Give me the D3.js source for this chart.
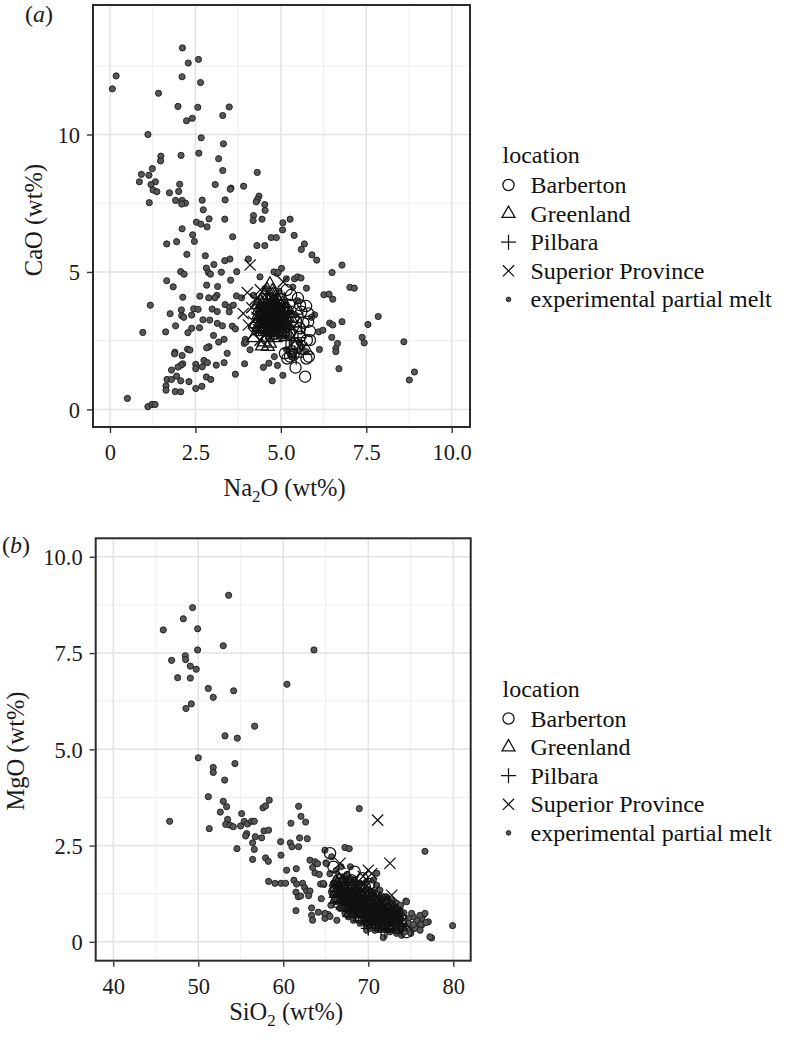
<!DOCTYPE html>
<html><head><meta charset="utf-8">
<script src="https://cdn.jsdelivr.net/npm/d3@7"></script>
<style>body{margin:0;background:#fff}svg{display:block}
svg text{font-family:"Liberation Serif","Tinos","Times New Roman","Times","Nimbus Roman","DejaVu Serif","Noto Serif",serif;}</style>
</head><body>
<svg id="c" width="786" height="1043"></svg>
<script>
// ---------------- DATA ----------------
const locations = ["Barberton","Greenland","Pilbara","Superior Province","experimental partial melt"];
// Panel (a): Na2O (x) vs CaO (y)
const aXTicks = [0,2.5,5,7.5,10], aXTickLabels = ["0","2.5","5.0","7.5","10.0"];
const aYTicks = [0,5,10], aYTickLabels = ["0","5","10"];
const aMelt = [[2.12,13.15],[2.29,12.6],[2.59,12.73],[0.18,12.13],[0.07,11.66],[2.11,12.1],[2.65,11.89],[1.42,11.5],[1.99,11.02],[2.57,10.99],[3.49,11.0],[3.30,10.69],[2.41,10.59],[2.24,10.5],[1.11,10.0],[2.67,9.88],[3.32,9.66],[2.60,9.32],[2.08,9.24],[1.49,9.21],[1.48,9.04],[3.18,9.12],[1.24,8.76],[3.30,8.69],[4.31,8.62],[0.92,8.55],[1.14,8.52],[0.86,8.28],[1.33,8.28],[1.20,8.18],[2.04,8.19],[3.08,8.18],[3.91,8.12],[3.54,8.05],[3.52,8.01],[1.26,7.98],[1.37,7.92],[1.74,7.88],[2.01,7.93],[4.36,7.76],[4.32,7.64],[1.92,7.60],[2.11,7.60],[2.70,7.61],[3.37,7.62],[4.28,7.55],[1.15,7.52],[2.21,7.50],[2.10,7.47],[4.53,7.45],[4.54,7.24],[2.73,7.26],[4.20,7.05],[2.90,6.93],[3.36,6.92],[4.19,6.87],[4.45,6.92],[5.27,6.92],[5.06,6.79],[2.53,6.81],[2.66,6.74],[2.84,6.64],[2.11,6.57],[5.05,6.53],[5.39,6.33],[2.42,6.35],[3.59,6.28],[4.72,6.25],[4.87,6.25],[2.47,6.11],[1.66,6.02],[1.95,6.10],[5.69,6.02],[4.30,5.96],[4.53,5.96],[5.60,5.82],[2.25,5.64],[2.79,5.59],[5.91,5.62],[6.05,5.43],[3.51,5.47],[3.36,5.41],[3.04,5.27],[4.05,5.47],[6.79,5.25],[5.02,5.13],[2.82,5.14],[2.88,4.98],[2.94,4.92],[2.07,5.01],[2.17,4.92],[3.26,4.99],[3.53,4.70],[3.71,5.01],[4.39,4.82],[4.88,4.95],[5.40,4.75],[5.49,4.82],[5.59,4.78],[5.16,4.75],[6.50,4.98],[1.66,4.68],[1.85,4.46],[2.83,4.52],[3.15,4.47],[5.75,4.41],[7.02,4.44],[7.15,4.41],[2.13,4.08],[3.13,4.15],[3.70,4.13],[3.07,4.06],[2.89,4.06],[2.63,4.12],[6.26,4.17],[6.41,4.19],[6.52,4.01],[3.85,4.06],[1.18,3.79],[2.09,3.62],[2.45,3.66],[2.58,3.64],[3.37,3.81],[3.50,3.72],[3.61,3.79],[2.99,3.65],[3.14,3.56],[3.49,3.55],[2.10,3.41],[2.16,3.35],[2.39,3.43],[1.76,3.48],[5.99,3.44],[7.85,3.38],[2.72,3.26],[2.92,3.25],[3.14,3.13],[2.62,2.97],[2.39,2.95],[1.92,3.04],[3.29,3.04],[3.58,3.03],[3.67,2.93],[6.43,3.14],[6.52,3.07],[6.79,3.19],[7.55,3.09],[0.96,2.80],[1.63,2.82],[2.28,2.79],[6.11,2.82],[6.23,2.88],[3.03,2.69],[3.18,2.45],[3.34,2.55],[3.96,2.55],[6.49,2.62],[7.38,2.62],[7.44,2.42],[8.60,2.46],[2.90,2.28],[2.83,2.24],[2.27,2.19],[2.34,2.16],[1.90,2.08],[1.89,2.02],[2.11,1.96],[3.43,2.04],[6.13,2.18],[6.61,2.22],[6.61,2.10],[6.66,2.40],[2.75,1.78],[2.85,1.70],[2.13,1.66],[2.08,1.61],[1.99,1.54],[2.51,1.64],[2.51,1.48],[2.70,1.55],[3.11,1.61],[3.34,1.70],[3.94,1.66],[1.80,1.43],[4.49,1.53],[4.65,1.68],[4.90,1.60],[4.81,1.92],[6.70,1.48],[1.67,1.09],[1.80,1.09],[1.95,1.21],[2.07,1.04],[1.64,0.86],[1.64,0.70],[1.91,0.65],[2.07,0.64],[2.31,1.01],[2.51,0.76],[2.69,0.84],[2.82,1.18],[2.95,1.09],[3.67,1.28],[4.75,1.04],[5.06,1.24],[8.76,1.07],[8.91,1.36],[0.51,0.40],[1.11,0.10],[1.23,0.18],[1.32,0.18],[3.93,2.40],[3.98,2.45],[4.10,2.17],[5.17,2.17],[5.31,1.92],[5.62,2.25],[5.53,2.44],[5.74,2.10],[4.60,3.40],[4.80,3.20],[4.40,3.70],[5.00,2.70],[4.95,4.30],[4.55,4.40],[4.20,4.15],[5.35,4.45],[5.50,3.95],[5.25,3.05],[4.30,2.95],[5.90,3.35],[4.80,5.00],[4.92,4.98]];
const aBarberton = [[5.30,4.16],[5.74,3.76],[5.80,3.49],[5.80,3.19],[5.85,2.85],[5.85,2.52],[5.42,2.40],[5.19,1.85],[5.43,1.52],[5.71,1.19],[5.82,1.92],[5.32,2.12],[5.56,3.79],[5.66,3.15],[5.37,3.36],[5.56,2.95],[5.17,4.34],[5.12,2.04],[5.37,1.98],[5.76,2.52],[5.56,2.64],[5.48,2.28],[5.27,1.92],[5.75,1.85],[5.60,3.55],[5.05,3.60],[4.90,3.30],[5.10,2.80],[4.80,3.60],[5.00,4.00],[5.50,4.05],[5.25,2.75],[5.45,3.20]];
const aGreenland = [[4.68,4.55],[4.60,4.35],[4.75,4.30],[4.52,4.15],[4.85,4.10],[4.40,3.95],[4.65,3.98],[4.95,3.90],[4.30,3.80],[4.55,3.78],[4.78,3.75],[5.05,3.70],[4.45,3.60],[4.70,3.58],[4.90,3.55],[5.20,3.52],[4.35,3.45],[4.60,3.42],[4.82,3.40],[5.00,3.38],[4.50,3.30],[4.72,3.28],[4.95,3.25],[5.30,3.30],[4.40,3.15],[4.62,3.12],[4.85,3.10],[5.10,3.08],[4.55,2.98],[4.78,2.95],[5.00,2.92],[4.45,2.82],[4.70,2.80],[4.92,2.78],[4.60,2.62],[4.85,2.60],[4.50,2.45],[4.68,2.40],[4.45,2.30],[4.62,2.28],[5.40,2.30],[5.75,2.15],[5.55,2.75],[4.25,3.10],[5.45,3.60],[4.20,2.60],[4.50,3.70],[4.62,3.55],[4.88,3.62],[4.98,3.48],[4.58,3.35],[4.80,3.22],[5.08,3.30],[4.68,3.10],[4.90,3.00],[4.52,2.90],[4.75,3.65],[4.85,3.85],[4.66,3.75],[5.12,3.60],[4.72,3.48],[4.95,3.15],[4.62,2.92],[5.05,2.85],[4.80,3.35],[4.58,3.20],
  [4.45,3.85],[4.45,3.55],[4.45,3.25],[4.45,2.95],[4.60,4.05],[4.60,3.75],[4.60,3.45],[4.60,3.15],[4.60,2.85],[4.75,4.15],[4.75,3.85],[4.75,3.55],[4.75,3.25],[4.75,2.95],[4.75,2.70],[4.90,4.00],[4.90,3.70],[4.90,3.40],[4.90,3.10],[4.90,2.80],[5.05,3.85],[5.05,3.55],[5.05,3.25],[5.05,2.95],[5.05,2.70],[5.20,3.65],[5.20,3.35],[5.20,3.05],[5.20,2.80],[4.35,3.60],[4.35,3.30],[4.35,3.00],[4.52,3.42],[4.68,3.62],[4.82,3.18],[4.97,3.62],[5.12,3.18],[4.67,2.98],[4.83,3.88],[5.28,3.48]];
const aPilbara = [[4.60,3.70],[4.80,3.60],[4.50,3.50],[4.70,3.40],[4.90,3.30],[4.65,3.20],[4.85,3.15],[5.05,3.20],[4.55,3.05],[4.75,3.00],[4.95,2.95],[5.15,2.90],[4.70,2.85],[5.30,2.60],[5.25,2.20],[5.40,2.05],[5.15,2.50],[5.45,1.90],[4.40,3.25],[5.00,3.50],[5.20,3.75],[4.90,3.85],[4.35,2.95],[5.60,3.00],[5.50,2.50],[4.60,3.90],[5.10,4.00],[4.80,2.70],[4.62,3.55],[4.82,3.45],[4.72,3.25],[4.95,3.40],[4.58,3.30],[4.78,3.75],[5.02,3.05],[4.65,2.95],[4.88,3.58],[4.52,3.62],[5.12,3.35],[4.70,3.65]];
const aSuperior = [[4.10,5.25],[4.02,4.25],[3.90,3.49],[4.05,3.07],[4.20,2.76],[4.39,2.52],[5.07,4.64],[4.25,4.00],[4.15,3.70],[4.30,3.35],[4.45,3.90],[4.60,3.50],[4.75,3.80],[4.50,3.15],[4.70,3.05],[4.88,3.45],[5.00,3.10],[4.35,2.90],[4.55,2.75],[4.95,3.70],[4.80,4.15],[4.40,4.35],[5.20,3.40],[5.35,3.00],[4.65,4.00],[4.20,3.20],[4.62,3.62],[4.85,3.28],[4.72,3.45],[4.55,3.40],[4.98,3.52],[4.78,2.92],[5.08,3.62],[4.68,3.30]];

// Panel (b): SiO2 (x) vs MgO (y)
const bXTicks = [40,50,60,70,80], bXTickLabels = ["40","50","60","70","80"];
const bYTicks = [0,2.5,5,7.5,10], bYTickLabels = ["0","2.5","5.0","7.5","10.0"];
const bMelt = [[45.88,8.10],[46.86,7.31],[48.24,8.39],[49.33,8.68],[47.57,6.86],[48.47,7.43],[48.51,7.33],[49.06,7.16],[49.76,7.08],[49.06,6.85],[49.92,7.58],[49.92,8.13],[48.55,6.06],[49.18,6.18],[53.57,9.00],[52.94,7.69],[51.18,6.58],[51.76,6.35],[54.16,6.52],[60.43,6.69],[63.61,7.58],[56.63,5.60],[53.14,5.35],[54.59,5.29],[50.0,4.78],[51.76,4.53],[51.76,4.40],[54.31,4.63],[53.10,4.20],[51.18,3.77],[52.94,3.65],[53.33,3.51],[52.59,3.37],[53.45,3.18],[53.22,3.05],[53.73,3.03],[54.12,2.99],[51.29,2.94],[46.63,3.13],[55.10,3.33],[54.98,3.01],[55.41,3.13],[55.8,3.06],[56.27,3.13],[56.59,3.13],[55.69,2.81],[55.57,2.75],[56.39,2.57],[56.59,2.40],[56.39,2.14],[54.55,2.42],[56.71,2.73],[57.45,2.70],[57.61,3.48],[57.92,3.53],[58.35,3.68],[57.73,2.88],[58.27,2.90],[57.92,2.18],[58.24,2.09],[58.27,1.57],[59.02,1.52],[59.73,1.52],[60.27,1.52],[59.69,2.60],[59.73,2.25],[60.39,1.86],[60.90,3.08],[60.82,2.57],[61.02,2.47],[61.80,3.52],[62.08,3.26],[62.63,3.11],[61.92,2.70],[61.80,2.47],[62.82,2.68],[61.25,1.60],[61.53,1.90],[61.57,1.50],[61.49,1.29],[61.76,1.17],[62.04,1.19],[61.49,0.81],[62.27,1.52],[62.51,1.41],[62.75,1.32],[63.14,1.32],[62.98,1.20],[63.14,2.12],[63.45,1.93],[63.73,2.08],[63.73,1.79],[64.04,2.03],[64.24,1.75],[63.33,0.88],[63.33,0.69],[63.45,0.56],[64.12,0.77],[64.39,1.50],[64.78,1.49],[64.47,1.12],[64.90,2.38],[65.02,2.05],[64.90,0.72],[64.90,0.61],[65.29,0.71],[65.69,2.21],[65.49,1.77],[67.25,2.45],[67.76,2.42],[68.94,3.46],[76.67,2.35],[79.92,0.42],[77.45,0.10],[77.06,0.52],[76.47,0.69],[74.43,1.06],[71.76,0.11],[65.1,2.03],[64.7,1.52],[64.9,0.74],[65.5,0.66],[66.3,0.56],[69.8,0.30],[73.73,0.30],[76.08,0.52],[77.25,0.13],[71.0,1.78],[74.5,1.04],
[66.27,1.04],[65.88,1.26],[66.67,0.87],[67.25,0.74],[67.65,0.65],[68.24,0.56],[69.02,0.48],[69.80,0.43],[70.20,0.35],[70.78,0.30],[72.55,0.26],[73.33,0.22],[73.92,0.17],[74.31,0.26],[74.90,0.30],[75.49,0.39],[75.88,0.48],[76.27,0.61],[75.69,0.56],[75.29,0.65],[74.71,0.61],[73.73,0.87],[73.33,1.00],[72.75,1.08],[72.16,1.17],[71.37,1.34],[70.98,1.47],[70.59,1.60],[69.80,1.56],[69.02,1.52],[68.24,1.60],[67.65,1.65],[67.06,1.69],[66.47,1.60],[66.67,1.43],[67.45,1.34],[68.24,1.26],[69.02,1.17],[69.80,1.08],[70.59,1.00],[71.37,0.91],[72.16,0.78],[72.94,0.69],[73.73,0.61],[67.06,1.08],[67.84,1.00],[68.63,0.91],[69.41,0.82],[70.20,0.74],[70.98,0.65],[71.76,0.56],[72.55,0.48],[73.33,0.43],[74.12,0.39],[67.45,0.87],[68.24,0.78],[69.41,0.61],[70.59,0.52],[71.37,0.43],[72.16,0.39],[69.80,1.34],[69.02,1.34],[70.59,1.26],[71.37,1.13],[72.94,0.91],[73.53,0.78],[75.10,0.74],[76.08,0.69],[76.67,0.74],[76.27,0.43],[75.29,0.35],[74.71,0.48],[65.88,1.52],[66.8,1.95],[67.5,1.75],[68.5,1.55],[66.2,1.85],[75.0,0.22],[75.5,0.35],[76.2,0.45],[76.8,0.50],[74.2,0.75],[73.8,0.95],[73.2,0.85],[72.8,1.00],[76.1,0.30],[75.3,0.45],[67.9,1.95],[66.0,1.10],[65.6,0.95]];
const bBarberton = [[65.5,2.30],[68.4,1.82],[69.6,1.43],[70.1,1.50],[65.9,1.95],[66.5,1.60],[67.8,1.40],[69.0,1.20],[70.5,1.05],[71.2,0.85],[67.2,1.10],[68.5,0.95],[72.0,0.60],[73.5,0.35],[74.5,0.25],[70.0,0.70],[66.0,1.30],[68.0,1.60],[69.3,1.65],[71.8,1.10]];
const bGreenland = [[66.8,1.25],[67.5,1.05],[68.2,0.90],[69.0,0.85],[69.8,0.75],[70.5,0.65],[71.3,0.55],[67.0,0.95],[68.6,1.15],[70.2,0.95],[71.8,0.45],[72.5,0.40],[66.3,1.50],[69.4,0.60],[73.0,0.35],[67.8,0.75],[68.0,1.10],[69.2,1.00],[70.8,0.85],[67.3,1.30],
  [66.2,1.55],[66.2,1.40],[66.2,1.25],[66.2,1.10],[66.6,1.60],[66.6,1.45],[66.6,1.30],[66.6,1.15],[66.6,1.00],[67.0,1.55],[67.0,1.40],[67.0,1.25],[67.0,1.10],[67.4,1.50],[67.4,1.35],[67.4,1.20],[67.4,1.05],[67.4,0.90],[67.8,1.48],[67.8,1.33],[67.8,1.18],[67.8,1.03],[67.8,0.88],[68.2,1.45],[68.2,1.30],[68.2,1.15],[68.2,1.00],[68.2,0.85],[68.2,0.72],[68.6,1.40],[68.6,1.25],[68.6,1.10],[68.6,0.95],[68.6,0.80],[69.0,1.38],[69.0,1.22],[69.0,1.08],[69.0,0.93],[69.0,0.78],[69.0,0.64],[69.4,1.32],[69.4,1.18],[69.4,1.03],[69.4,0.88],[69.4,0.74],[69.8,1.28],[69.8,1.14],[69.8,0.99],[69.8,0.84],[69.8,0.70],[69.8,0.56],[70.2,1.24],[70.2,1.10],[70.2,0.80],[70.2,0.66],[70.2,0.52],[70.6,1.20],[70.6,1.06],[70.6,0.91],[70.6,0.76],[70.6,0.62],[70.6,0.48],[71.0,1.15],[71.0,1.00],[71.0,0.86],[71.0,0.72],[71.0,0.58],[71.0,0.44],[71.4,1.10],[71.4,0.96],[71.4,0.82],[71.4,0.68],[71.4,0.40],[71.8,1.05],[71.8,0.90],[71.8,0.76],[71.8,0.62],[71.8,0.35],[72.2,0.98],[72.2,0.84],[72.2,0.70],[72.2,0.56],[72.2,0.42],[72.6,0.92],[72.6,0.78],[72.6,0.64],[72.6,0.50],[73.0,0.86],[73.0,0.72],[73.0,0.58],[73.0,0.44],[73.4,0.78],[73.4,0.64],[73.4,0.50],[73.8,0.70],[73.8,0.55],[73.8,0.40]];
const bPilbara = [[71.5,0.35],[72.2,0.30],[70.8,0.45],[73.0,0.50],[69.5,0.50],[71.0,0.75],[72.8,0.65],[68.5,0.70],[74.0,0.40],[70.0,0.35],[71.96,0.26],[69.0,0.95],[68.0,1.00],[70.3,0.90],
  [66.4,1.32],[66.8,1.38],[67.2,1.18],[67.6,1.28],[67.6,0.98],[68.0,1.22],[68.4,1.05],[68.4,0.80],[68.8,1.18],[68.8,0.88],[69.2,1.12],[69.2,0.82],[69.6,0.95],[69.6,0.66],[70.0,1.05],[70.0,0.78],[70.4,0.86],[70.4,0.58],[70.8,1.00],[70.8,0.68],[71.2,0.90],[71.2,0.62],[71.6,0.78],[71.6,0.50],[72.0,0.72],[72.4,0.62],[72.8,0.52],[73.2,0.66],[73.6,0.48]];
const bSuperior = [[71.1,3.16],[72.55,2.04],[72.75,1.21],[66.67,2.04],[70.0,1.86],[70.4,1.77],[69.4,1.70],[68.2,1.55],[67.0,1.70],[69.8,1.45],[70.6,1.30],[68.8,1.25],[71.5,1.05],[67.5,1.20],[66.8,1.45],[69.0,1.05],[70.2,1.10],[72.0,0.90],[68.0,1.35]];

// ---------------- DRAW ----------------
const svg = d3.select("#c");
const INK = "#111";

function drawMarker(g, type, legend){
  if(type==="Barberton"){
    g.append("circle").attr("r",5.6).attr("fill","none").attr("stroke",INK).attr("stroke-width",1.25);
  } else if(type==="Greenland"){
    const s=13, h=s*Math.sqrt(3)/2;
    g.append("path").attr("d",`M0,${-h*2/3}L${s/2},${h/3}L${-s/2},${h/3}Z`).attr("fill","none").attr("stroke",INK).attr("stroke-width",1.25);
  } else if(type==="Pilbara"){
    const a=7.5;
    g.append("path").attr("d",`M${-a},0H${a}M0,${-a}V${a}`).attr("stroke",INK).attr("stroke-width",1.25);
  } else if(type==="Superior Province"){
    const a=5.6;
    g.append("path").attr("d",`M${-a},${-a}L${a},${a}M${-a},${a}L${a},${-a}`).attr("stroke",INK).attr("stroke-width",1.25);
  } else {
    g.append("circle").attr("r",legend?2.3:3.1).attr("fill","#575757").attr("stroke","#1a1a1a").attr("stroke-width",0.9);
  }
}

function panel(cfg){
  const x = d3.scaleLinear().domain(cfg.xDomain).range([cfg.left,cfg.right]);
  const y = d3.scaleLinear().domain(cfg.yDomain).range([cfg.bottom,cfg.top]);
  const g = svg.append("g");
  g.append("rect").attr("x",cfg.left).attr("y",cfg.top).attr("width",cfg.right-cfg.left).attr("height",cfg.bottom-cfg.top).attr("fill","#fff");
  g.selectAll(".mx").data(cfg.xMinor).join("line").attr("x1",d=>x(d)).attr("x2",d=>x(d)).attr("y1",cfg.top).attr("y2",cfg.bottom).attr("stroke","#ececec").attr("stroke-width",0.9);
  g.selectAll(".my").data(cfg.yMinor).join("line").attr("y1",d=>y(d)).attr("y2",d=>y(d)).attr("x1",cfg.left).attr("x2",cfg.right).attr("stroke","#ececec").attr("stroke-width",0.9);
  g.selectAll(".gx").data(cfg.xTicks).join("line").attr("x1",d=>x(d)).attr("x2",d=>x(d)).attr("y1",cfg.top).attr("y2",cfg.bottom).attr("stroke","#e3e3e3").attr("stroke-width",1.5);
  g.selectAll(".gy").data(cfg.yTicks).join("line").attr("y1",d=>y(d)).attr("y2",d=>y(d)).attr("x1",cfg.left).attr("x2",cfg.right).attr("stroke","#e3e3e3").attr("stroke-width",1.5);
  const layers = [["experimental partial melt",cfg.melt],["Barberton",cfg.barb],["Greenland",cfg.green],["Pilbara",cfg.pil],["Superior Province",cfg.sup]];
  layers.forEach(([name,data])=>{
    g.append("g").selectAll("g").data(data).join("g")
      .attr("transform",d=>`translate(${x(d[0])},${y(d[1])})`)
      .each(function(){ drawMarker(d3.select(this), name, false); });
  });
  g.append("rect").attr("x",cfg.left).attr("y",cfg.top).attr("width",cfg.right-cfg.left).attr("height",cfg.bottom-cfg.top).attr("fill","none").attr("stroke","#2b2b2b").attr("stroke-width",2);
  const ax = g.append("g").attr("transform",`translate(0,${cfg.bottom+1})`)
    .call(d3.axisBottom(x).tickValues(cfg.xTicks).tickFormat((d,i)=>cfg.xTickLabels[i]).tickSize(5).tickSizeOuter(0).tickPadding(11));
  const ay = g.append("g").attr("transform",`translate(${cfg.left-1},0)`)
    .call(d3.axisLeft(y).tickValues(cfg.yTicks).tickFormat((d,i)=>cfg.yTickLabels[i]).tickSize(5).tickSizeOuter(0).tickPadding(7));
  [ax,ay].forEach(a=>{
    a.attr("font-family",null);
    a.select(".domain").remove();
    a.selectAll(".tick line").attr("stroke","#333").attr("stroke-width",1.4);
    a.selectAll(".tick text").attr("font-size",22.5).attr("fill","#1a1a1a");
  });
  ay.selectAll(".tick text").attr("dy","0.35em");
  const xt = svg.append("text").attr("x",(cfg.left+cfg.right)/2+3).attr("y",cfg.xTitleY)
    .attr("text-anchor","middle").attr("font-size",24.5).attr("fill","#1a1a1a");
  xt.append("tspan").text(cfg.xTitle[0]);
  xt.append("tspan").text("2").attr("font-size",17).attr("dy",6);
  xt.append("tspan").text(cfg.xTitle[1]).attr("dy",-6);
  svg.append("text").attr("transform",`translate(${cfg.yTitleX},${cfg.yTitleCY}) rotate(-90)`)
    .attr("text-anchor","middle").attr("font-size",24.5).attr("fill","#1a1a1a").text(cfg.yTitle);
  const pl = svg.append("text").attr("x",cfg.labelX).attr("y",cfg.labelY).attr("font-size",24).attr("fill","#1a1a1a");
  pl.append("tspan").text("(");
  pl.append("tspan").text(cfg.label).attr("font-style","italic");
  pl.append("tspan").text(")");
  const lg = svg.append("g").attr("transform",`translate(0,${cfg.legendY})`);
  lg.append("text").attr("x",502.5).attr("y",0).attr("font-size",24).attr("fill","#111").text("location");
  locations.forEach((name,i)=>{
    const by = 30 + i*28.6;
    const mk = lg.append("g").attr("transform",`translate(508.5,${by-8})`);
    drawMarker(mk, name, true);
    lg.append("text").attr("x",530.5).attr("y",by).attr("font-size",24).attr("fill","#111").text(name);
  });
}

panel({left:93,right:470,top:5,bottom:427,xDomain:[-0.497,10.536],yDomain:[-0.64,14.71],
  xTicks:aXTicks,xTickLabels:aXTickLabels,yTicks:aYTicks,yTickLabels:aYTickLabels,
  xMinor:[1.25,3.75,6.25,8.75],yMinor:[2.5,7.5,12.5],
  melt:aMelt,barb:aBarberton,green:aGreenland,pil:aPilbara,sup:aSuperior,
  xTitle:["Na","O (wt%)"],xTitleY:496,yTitle:"CaO (wt%)",yTitleX:42,yTitleCY:220,
  label:"a",labelX:25,labelY:22,legendY:163});
panel({left:95.7,right:470.7,top:538.3,bottom:960.7,xDomain:[37.93,82.05],yDomain:[-0.49,10.48],
  xTicks:bXTicks,xTickLabels:bXTickLabels,yTicks:bYTicks,yTickLabels:bYTickLabels,
  xMinor:[45,55,65,75],yMinor:[1.25,3.75,6.25,8.75],
  melt:bMelt,barb:bBarberton,green:bGreenland,pil:bPilbara,sup:bSuperior,
  xTitle:["SiO"," (wt%)"],xTitleY:1020,yTitle:"MgO (wt%)",yTitleX:24,yTitleCY:751,
  label:"b",labelX:2,labelY:553,legendY:696.5});
</script>
</body></html>
